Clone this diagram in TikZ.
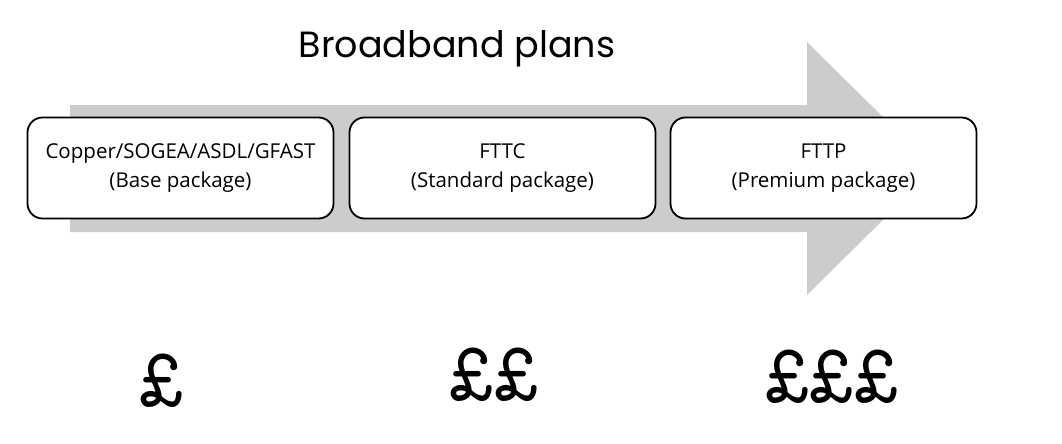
\documentclass[tikz,border=0pt]{standalone}
\usepackage{fontspec}
\setmainfont{Open Sans}
\newfontfamily\titlefont{Poppins}
\newfontfamily\poundfont{Latin Modern Mono}
\definecolor{arrowgray}{RGB}{204,204,204}
\begin{document}
\begin{tikzpicture}[x=1pt,y=-1pt,
  planbox/.style={draw=black, line width=1.8pt, rounded corners=15pt, fill=white,
    minimum width=306pt, minimum height=101pt, inner sep=0pt, align=center,
    font=\fontsize{20.5}{29}\selectfont},
  price/.style={font=\poundfont\fontsize{86}{86}\selectfont, inner sep=0pt}]
\useasboundingbox (0,0) rectangle (1062,444);
% big arrow
\fill[arrowgray] (70,105) -- (807,105) -- (807,42) -- (935,168.5) -- (807,295) -- (807,232) -- (70,232) -- cycle;
% title
\node[font=\titlefont\fontsize{36.5}{40}\selectfont, anchor=base, inner sep=0pt] (title) at (457,57) {Broadband plans};
% boxes
\node[planbox] (base) at (180.5,168) {Copper/SOGEA/ASDL/GFAST\\(Base package)};
\node[planbox] (std) at (502.5,168) {FTTC\\(Standard package)};
\node[planbox] (prem) at (823.5,168) {FTTP\\(Premium package)};
% prices
\node[price] (p1) at (162,381) {£};
\node[price] (p2) at (494,375) {££};
\node[price] (p3) at (832,377) {£££};
\end{tikzpicture}
\end{document}
